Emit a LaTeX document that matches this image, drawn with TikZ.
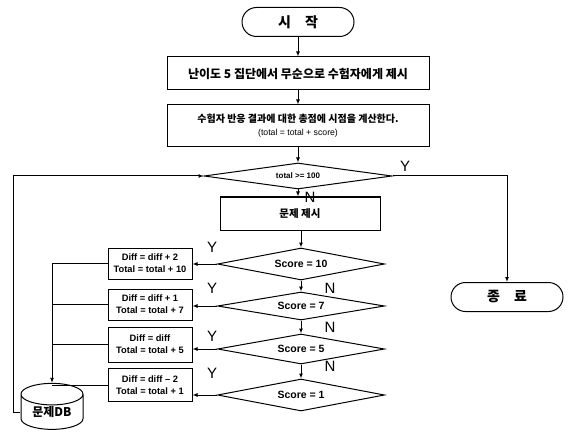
\documentclass[tikz,border=0pt]{standalone}
\usepackage{fontspec}
\setmainfont{Liberation Sans}
\newfontfamily\kr{Noto Sans CJK KR}
\usetikzlibrary{shapes.geometric,shapes.misc,arrows.meta,calc}
\begin{document}
\begin{tikzpicture}[x=1pt,y=-1pt,
  line width=1pt,
  >={Latex[length=5pt,width=4pt]},
  term/.style={rounded rectangle, draw, minimum width=112pt, minimum height=29pt, inner sep=0pt, font=\kr\bfseries\fontsize{14}{16}\selectfont},
  proc/.style={rectangle, draw, inner sep=0pt, align=center},
  dec/.style={diamond, draw, inner sep=0pt, shape aspect=5, minimum width=167pt, font=\bfseries\fontsize{10.5}{12}\selectfont},
  act/.style={rectangle, draw, inner sep=0pt, minimum width=84pt, align=center, font=\bfseries\fontsize{9.3}{12}\selectfont},
  lab/.style={font=\fontsize{15}{15}\selectfont, inner sep=0pt}
]
\useasboundingbox (0,0) rectangle (569,438);

\node[term] (start) at (298,22) {시\quad 작};
\node[proc, minimum width=262pt, minimum height=33pt, font=\kr\bfseries\fontsize{12}{14}\selectfont] (b1) at (298,73.5) {난이도 5 집단에서 무순으로 수험자에게 제시};
\node[proc, minimum width=262pt, minimum height=42pt] (b2) at (298,126) {{\kr\bfseries\fontsize{10}{12}\selectfont 수험자 반응 결과에 대한 총점에 시점을 계산한다.}\\[1pt]{\fontsize{8.7}{10}\selectfont (total = total + score)}};
\node[dec, minimum width=188pt, minimum height=26pt, font=\bfseries\fontsize{8}{10}\selectfont] (d1) at (298,176) {total >= 100};
\node[proc, minimum width=160pt, minimum height=33pt, font=\kr\bfseries\fontsize{10.5}{12}\selectfont] (q) at (300,213.5) {문제 제시};

\node[dec, minimum height=32pt] (s10) at (301,264) {Score = 10};
\node[dec, minimum height=28pt] (s7) at (301,306) {Score = 7};
\node[dec, minimum height=30pt] (s5) at (301,349) {Score = 5};
\node[dec, minimum height=32pt] (s1) at (301,395) {Score = 1};

\node[act, minimum height=31pt] (A) at (150,263.5) {Diff = diff + 2\\Total = total + 10};
\node[act, minimum height=31pt] (B) at (150,304.5) {Diff = diff + 1\\Total = total + 7};
\node[act, minimum height=35pt] (C) at (150,344.5) {Diff = diff\\Total = total + 5};
\node[act, minimum height=33pt] (D) at (150,385) {Diff = diff – 2\\Total = total + 1};

\node[cylinder, shape border rotate=90, draw, aspect=0.55, minimum width=62pt, minimum height=46pt, inner sep=0pt, font=\kr\bfseries\fontsize{12}{14}\selectfont] (db) at (52,412) {문제DB};

\node[term] (end) at (507,297) {종\quad 료};

\coordinate (lp) at (13,176);

\draw[->] (start.south) -- (b1.north);
\draw[->] (b1.south) -- (b2.north);
\draw[->] (b2.south) -- (d1.north);
\draw[->] (d1.south) -- (d1.south |- q.north);
\draw[->] (q.south -| s10.north) -- (s10.north);
\draw[->] (s10.south) -- (s7.north);
\draw[->] (s7.south) -- (s5.north);
\draw[->] (s5.south) -- (s1.north);
\draw[->] (d1.east) -| (end.north);
\draw[->] (db.west) -| (lp) -- (d1.west);

\draw[->] (s10.west) -- (s10.west -| A.east);
\draw[->] (s7.west) -- (s7.west -| B.east);
\draw[->] (s5.west) -- (s5.west -| C.east);
\draw[->] (s1.west) -- (s1.west -| D.east);

\draw[->] (A.west) -| (db.north);
\draw (B.west) -- (B.west -| db.north);
\draw (C.west) -- (C.west -| db.north);
\draw (D.west) -- (D.west -| db.north);

\node[lab] (y0) at (405,166) {Y};
\node[lab] (n0) at (310,197) {N};
\node[lab] (y1) at (212,247) {Y};
\node[lab] (n1) at (330,288) {N};
\node[lab] (y2) at (212,288) {Y};
\node[lab] (n2) at (330,327) {N};
\node[lab] (y3) at (212,336) {Y};
\node[lab] (n3) at (330,366) {N};
\node[lab] (y4) at (212,373) {Y};
\end{tikzpicture}
\end{document}
